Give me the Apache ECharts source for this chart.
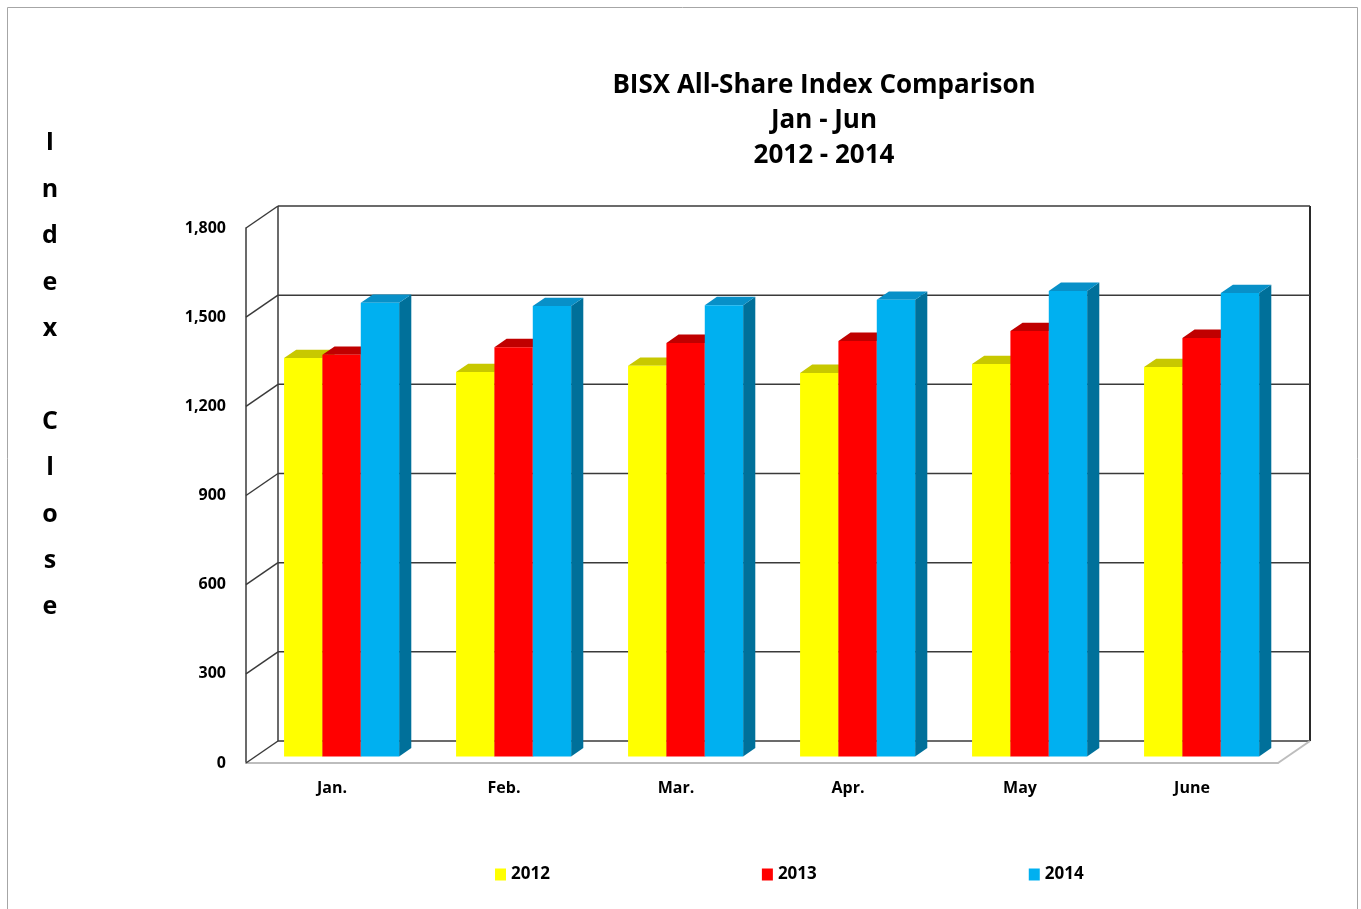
<!DOCTYPE html>
<html>
<head>
<meta charset="utf-8">
<script src="https://cdn.jsdelivr.net/npm/echarts@6/dist/echarts.min.js"></script>
<style>
html, body { margin: 0; padding: 0; background: #fff; }
#chart { width: 1361px; height: 909px; }
</style>
</head>
<body>
<div id="chart"></div>
<script>
var months = ['Jan.', 'Feb.', 'Mar.', 'Apr.', 'May', 'June']
var years = ['2012', '2013', '2014']
var close2012 = [1340, 1293, 1314, 1290, 1320, 1310]
var close2013 = [1351, 1377, 1391, 1398, 1431, 1408]
var close2014 = [1526, 1515, 1518, 1536, 1566, 1559]
var yTicks = [0, 300, 600, 900, 1200, 1500, 1800]

// fake 3d: offset of the back wall from the front plane, bars sit in between
var depth = [32, -22]
var barFront = 0.3
var barBack = 0.68

var palette = [
  { front: '#FFFF00', top: '#C8C800', side: '#B0B000' },
  { front: '#FF0000', top: '#C00000', side: '#A00000' },
  { front: '#00B0F0', top: '#0890C8', side: '#00709A' }
]

function barRenderer (s) {
  var c = palette[s]
  return function (params, api) {
    var idx = api.value(0)
    var base = api.coord([idx, 0])
    var top = api.coord([idx, api.value(1)])
    var bw = api.size([1, 0])[0] * 0.223
    var ox = depth[0] * barFront
    var oy = depth[1] * barFront
    var dx = depth[0] * (barBack - barFront)
    var dy = depth[1] * (barBack - barFront)
    var x0 = base[0] - 1.5 * bw + s * bw + ox
    var y0 = base[1] + oy
    var yt = top[1] + oy
    return {
      type: 'group',
      children: [
        {
          type: 'polygon',
          shape: { points: [[x0 + bw, yt], [x0 + bw + dx, yt + dy], [x0 + bw + dx, y0 + dy], [x0 + bw, y0]] },
          style: { fill: c.side }
        },
        {
          type: 'polygon',
          shape: { points: [[x0, yt], [x0 + bw, yt], [x0 + bw + dx, yt + dy], [x0 + dx, yt + dy]] },
          style: { fill: c.top }
        },
        {
          type: 'rect',
          shape: { x: x0, y: yt, width: bw, height: y0 - yt },
          style: { fill: c.front }
        }
      ]
    }
  }
}

function renderWall (params, api) {
  var cs = params.coordSys
  var y = api.coord([0, api.value(1)])[1]
  var left = cs.x
  var right = cs.x + cs.width
  var bx = depth[0]
  var by = depth[1]
  var dark = { stroke: '#3a3a3a', lineWidth: 1.5 }
  var children = [
    { type: 'line', shape: { x1: left, y1: y, x2: left + bx, y2: y + by }, style: dark },
    { type: 'line', shape: { x1: left + bx, y1: y + by, x2: right + bx, y2: y + by }, style: dark }
  ]
  if (params.dataIndex === 0) {
    children.push(
      { type: 'line', shape: { x1: left + bx, y1: y + by, x2: left + bx, y2: cs.y + by }, style: dark },
      { type: 'line', shape: { x1: right + bx, y1: y + by, x2: right + bx, y2: cs.y + by }, style: { stroke: '#2a2a2a', lineWidth: 2 } },
      { type: 'line', shape: { x1: right, y1: y, x2: right + bx, y2: y + by }, style: { stroke: '#BDBDBD', lineWidth: 2 } }
    )
  }
  return { type: 'group', children: children }
}

var chart = echarts.init(document.getElementById('chart'))
var labelFont = { fontFamily: 'Open Sans', fontWeight: 'bold', fontSize: 16, color: '#000' }

chart.setOption({
  animation: false,
  backgroundColor: '#fff',
  graphic: [
    {
      type: 'rect',
      shape: { x: 7.5, y: 7.5, width: 1350, height: 960 },
      style: { fill: null, stroke: '#A6A6A6', lineWidth: 1 }
    },
    {
      type: 'text',
      style: {
        text: 'BISX All-Share Index Comparison\nJan - Jun\n2012 - 2014',
        x: 824, y: 68, align: 'center', verticalAlign: 'top',
        lineHeight: 35, font: 'bold 26px "Open Sans"', fill: '#000'
      }
    },
    {
      type: 'text',
      style: {
        text: 'I\nn\nd\ne\nx\n\nC\nl\no\ns\ne',
        x: 50, y: 120, align: 'center', verticalAlign: 'top',
        lineHeight: 46.4, font: 'bold 25px "Open Sans"', fill: '#000'
      }
    }
  ],
  legend: {
    data: years,
    icon: 'rect',
    left: 490,
    top: 861,
    itemWidth: 11,
    itemHeight: 12,
    itemGap: 212,
    textStyle: { fontFamily: 'Open Sans', fontWeight: 'bold', fontSize: 17, color: '#000' }
  },
  grid: { left: 246, right: 83, top: 228, bottom: 146, containLabel: false },
  xAxis: {
    type: 'category',
    data: months,
    axisLine: { show: true, lineStyle: { color: '#BDBDBD', width: 2 } },
    axisTick: { show: false },
    axisLabel: Object.assign({ margin: 17 }, labelFont)
  },
  yAxis: {
    type: 'value',
    min: 0,
    max: 1800,
    interval: 300,
    axisLine: { show: true, lineStyle: { color: '#3a3a3a', width: 1.5 } },
    axisTick: { show: false },
    splitLine: { show: false },
    axisLabel: Object.assign({ margin: 20, padding: [5, 0, 0, 0], formatter: function (v) { return v.toLocaleString('en-US') } }, labelFont)
  },
  series: [
    {
      name: 'wall',
      type: 'custom',
      renderItem: renderWall,
      data: yTicks.map(function (v) { return [0, v] }),
      silent: true,
      z: 1
    },
    {
      name: years[0],
      type: 'custom',
      renderItem: barRenderer(0),
      itemStyle: { color: palette[0].front },
      data: close2012.map(function (v, i) { return [i, v] }),
      z: 2
    },
    {
      name: years[1],
      type: 'custom',
      renderItem: barRenderer(1),
      itemStyle: { color: palette[1].front },
      data: close2013.map(function (v, i) { return [i, v] }),
      z: 2
    },
    {
      name: years[2],
      type: 'custom',
      renderItem: barRenderer(2),
      itemStyle: { color: palette[2].front },
      data: close2014.map(function (v, i) { return [i, v] }),
      z: 2
    }
  ]
})
</script>
</body>
</html>
